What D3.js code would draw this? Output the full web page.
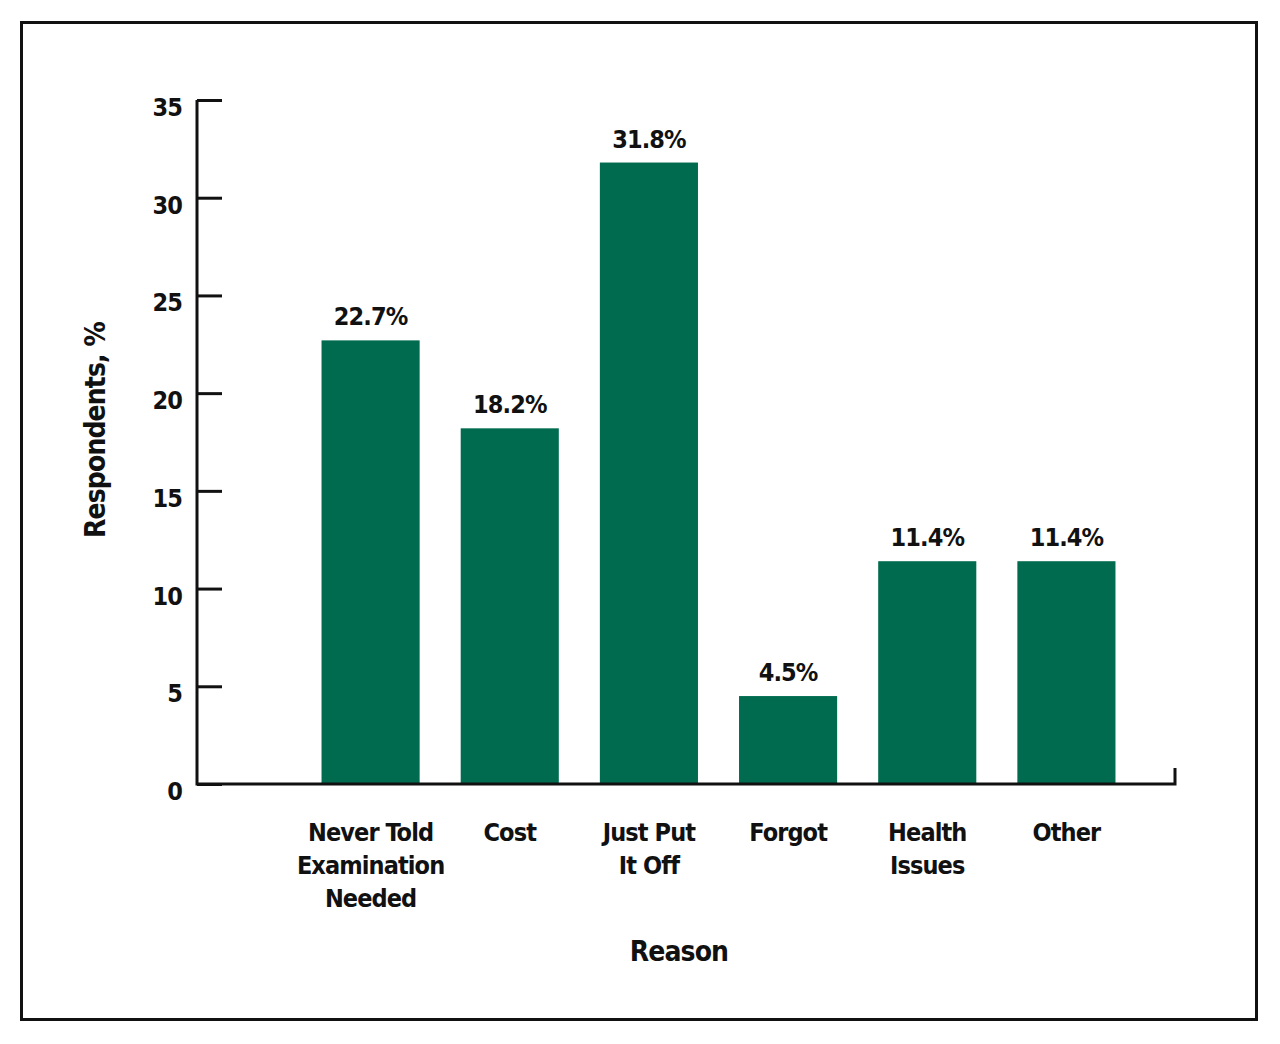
<!DOCTYPE html>
<html>
<head>
<meta charset="utf-8">
<script src="https://cdn.jsdelivr.net/npm/d3@7"></script>
<style>
  body { margin: 0; background: #fff; }
  svg text { font-family: "Liberation Sans Narrow", "DejaVu Sans Condensed", "Open Sans", sans-serif; font-weight: bold; fill: #111; letter-spacing: -0.9px; }
</style>
</head>
<body>
<svg id="chart" width="1280" height="1044"></svg>
<script>
// reasons for skipping the examination
const categories = ["Never Told|Examination|Needed", "Cost", "Just Put|It Off", "Forgot", "Health|Issues", "Other"]
const values = [22.7, 18.2, 31.8, 4.5, 11.4, 11.4]
const yTicks = [0, 5, 10, 15, 20, 25, 30, 35]

const svg = d3.select("#chart")

// frame round the whole figure
svg.append("rect")
   .attr("x", 21.5).attr("y", 22.5)
   .attr("width", 1235).attr("height", 997)
   .attr("fill", "none").attr("stroke", "#111").attr("stroke-width", 3)

const x = d3.scaleBand()
   .domain(categories)
   .range([301, 1136])
   .paddingInner(0.295)
   .paddingOuter(0.1475)

const y = d3.scaleLinear()
   .domain([0, 35])
   .range([784, 100])

const axisX0 = 197, axisX1 = 1175

// bars
svg.append("g")
   .selectAll("rect")
   .data(values)
   .join("rect")
   .attr("x", (d, i) => x(categories[i]))
   .attr("y", d => y(d))
   .attr("width", x.bandwidth())
   .attr("height", d => y(0) - y(d))
   .attr("fill", "#006b4e")

// value labels
svg.append("g")
   .selectAll("text")
   .data(values)
   .join("text")
   .attr("x", (d, i) => x(categories[i]) + x.bandwidth() / 2)
   .attr("y", d => y(d) - 15)
   .attr("text-anchor", "middle")
   .attr("font-size", 25)
   .text(d => d.toFixed(1) + "%")

// y axis, ticks point inward
const yAxis = d3.axisLeft(y)
   .tickValues(yTicks)
   .tickSizeInner(-25)
   .tickSizeOuter(0)
   .tickPadding(15)

const gy = svg.append("g")
   .attr("transform", `translate(${axisX0},0)`)
   .call(yAxis)
gy.select(".domain").remove()
gy.selectAll(".tick line").attr("stroke", "#111").attr("stroke-width", 3)
gy.selectAll(".tick text")
   .attr("font-size", 25)
   .attr("dy", "0.62em")
   .style("font-family", null)

// axis lines
svg.append("path")
   .attr("d", `M${axisX0},${y(35)}V${y(0)}H${axisX1}V${y(0) - 16}`)
   .attr("fill", "none")
   .attr("stroke", "#111")
   .attr("stroke-width", 3)

// category labels, split on |
const catG = svg.append("g")
   .selectAll("text")
   .data(categories)
   .join("text")
   .attr("text-anchor", "middle")
   .attr("font-size", 25)
   .attr("transform", d => `translate(${x(d) + x.bandwidth() / 2},841)`)

catG.selectAll("tspan")
   .data(d => d.split("|"))
   .join("tspan")
   .attr("x", 0)
   .attr("y", (d, i) => i * 33)
   .text(d => d)

// axis titles
svg.append("text")
   .attr("x", 679).attr("y", 961)
   .attr("text-anchor", "middle")
   .attr("font-size", 28)
   .text("Reason")

svg.append("text")
   .attr("transform", "translate(105,430) rotate(-90)")
   .attr("text-anchor", "middle")
   .attr("font-size", 28)
   .text("Respondents, %")
</script>
</body>
</html>
